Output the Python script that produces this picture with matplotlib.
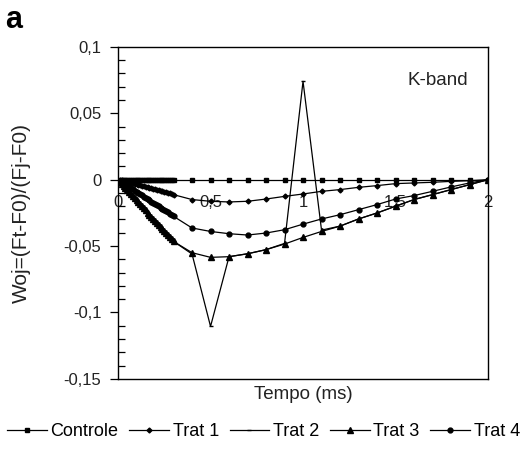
import numpy as np
import matplotlib.pyplot as plt
import matplotlib.ticker as ticker

plt.rcParams['font.family'] = ['Liberation Sans', 'DejaVu Sans']

# time points (ms): 0.01..0.3 every 0.01, then 0.4..2.0 every 0.1
tempo = [0.01, 0.02, 0.03, 0.04, 0.05, 0.06, 0.07, 0.08, 0.09, 0.10,
         0.11, 0.12, 0.13, 0.14, 0.15, 0.16, 0.17, 0.18, 0.19, 0.20,
         0.21, 0.22, 0.23, 0.24, 0.25, 0.26, 0.27, 0.28, 0.29, 0.30,
         0.4, 0.5, 0.6, 0.7, 0.8, 0.9, 1.0, 1.1, 1.2, 1.3, 1.4, 1.5,
         1.6, 1.7, 1.8, 1.9, 2.0]

controle = [0.0] * 47

trat1 = [-0.0003, -0.0006, -0.0010, -0.0013, -0.0017, -0.0020, -0.0024, -0.0027, -0.0031, -0.0035,
         -0.0038, -0.0042, -0.0046, -0.0049, -0.0053, -0.0057, -0.0060, -0.0064, -0.0068, -0.0071,
         -0.0075, -0.0079, -0.0082, -0.0086, -0.0090, -0.0094, -0.0098, -0.0102, -0.0107, -0.0113,
         -0.0150, -0.0163, -0.0168, -0.0163, -0.0146, -0.0126, -0.0108, -0.0088, -0.0075, -0.0058,
         -0.0045, -0.0030, -0.0025, -0.0020, -0.0013, -0.0008, 0.0]

trat3 = [-0.0015, -0.0031, -0.0046, -0.0062, -0.0077, -0.0093, -0.0108, -0.0124, -0.0139, -0.0155,
         -0.0170, -0.0186, -0.0201, -0.0217, -0.0232, -0.0248, -0.0263, -0.0279, -0.0294, -0.0310,
         -0.0325, -0.0341, -0.0356, -0.0372, -0.0387, -0.0403, -0.0418, -0.0434, -0.0450, -0.0465,
         -0.0550, -0.0585, -0.0580, -0.0558, -0.0527, -0.0485, -0.0435, -0.0390, -0.0350, -0.0296,
         -0.0251, -0.0200, -0.0150, -0.0113, -0.0075, -0.0038, 0.0]

trat2 = [-0.0015, -0.0031, -0.0046, -0.0062, -0.0077, -0.0093, -0.0108, -0.0124, -0.0139, -0.0155,
         -0.0170, -0.0186, -0.0201, -0.0217, -0.0232, -0.0248, -0.0263, -0.0279, -0.0294, -0.0310,
         -0.0325, -0.0341, -0.0356, -0.0372, -0.0387, -0.0403, -0.0418, -0.0434, -0.0450, -0.0465,
         -0.0560, -0.1105, -0.0580, -0.0558, -0.0527, -0.0480, 0.0740, -0.0380, -0.0350, -0.0296,
         -0.0251, -0.0200, -0.0150, -0.0113, -0.0075, -0.0038, 0.0]

trat4 = [-0.0009, -0.0018, -0.0028, -0.0037, -0.0046, -0.0055, -0.0064, -0.0074, -0.0083, -0.0092,
         -0.0101, -0.0110, -0.0119, -0.0128, -0.0137, -0.0146, -0.0155, -0.0165, -0.0174, -0.0183,
         -0.0192, -0.0201, -0.0210, -0.0219, -0.0228, -0.0237, -0.0246, -0.0256, -0.0266, -0.0276,
         -0.0364, -0.0390, -0.0407, -0.0417, -0.0402, -0.0377, -0.0335, -0.0296, -0.0264, -0.0226,
         -0.0188, -0.0146, -0.0120, -0.0088, -0.0055, -0.0025, 0.0]

yticks = [-0.15, -0.1, -0.05, 0, 0.05, 0.1]
ytick_labels = ['-0,15', '-0,1', '-0,05', '0', '0,05', '0,1']
xticks = [0, 0.5, 1, 1.5, 2]
xtick_labels = ['0', '0,5', '1', '1,5', '2']

lw = 0.9
fs = 12
tc = '#222222'

fig = plt.figure(figsize=(5.27, 4.5), dpi=100)
ax = fig.add_axes([0.224, 0.158, 0.702, 0.738])

ax.plot(tempo, controle, 'k-', marker='s', ms=3.5, lw=lw, label='Controle')
ax.plot(tempo, trat1, 'k-', marker='D', ms=2.5, lw=lw, label='Trat 1')
ax.plot(tempo, trat2, 'k-', marker='_', ms=3, mew=1, lw=lw, label='Trat 2')
ax.plot(tempo, trat3, 'k-', marker='^', ms=4, lw=lw, label='Trat 3')
ax.plot(tempo, trat4, 'k-', marker='o', ms=3.5, lw=lw, label='Trat 4')

ax.set_xlim(0, 2)
ax.set_ylim(-0.15, 0.1)
ax.set_yticks(yticks)
ax.set_yticklabels(ytick_labels, fontsize=fs, color=tc)
ax.yaxis.set_minor_locator(ticker.MultipleLocator(0.01))
ax.tick_params(axis='y', which='major', direction='out', length=6, width=0.9, pad=6)
ax.tick_params(axis='y', which='minor', direction='in', length=5, width=0.9)

# x tick labels sit under the zero line
ax.set_xticks([])
sec = ax.secondary_xaxis(0.6)
sec.set_alignment('bottom')
sec.set_xticks(xticks)
sec.set_xticklabels(xtick_labels, fontsize=fs, color=tc)
sec.tick_params(axis='x', length=0, pad=11)
sec.spines['bottom'].set_visible(False)
sec.spines['top'].set_visible(False)

for s in ax.spines.values():
    s.set_linewidth(1.0)

ax.set_xlabel('Tempo (ms)', fontsize=13.5, color=tc, labelpad=5)
ax.set_ylabel('Woj=(Ft-F0)/(Fj-F0)', fontsize=15, color=tc)
ax.yaxis.set_label_coords(-0.235, 0.5)
ax.text(0.946, 0.90, 'K-band', transform=ax.transAxes, ha='right', va='center',
        fontsize=13.5, color=tc)

fig.text(0.01, 0.955, 'a', fontsize=22, fontweight='bold', va='center')

fig.legend(loc='center', bbox_to_anchor=(0.5, 0.04), ncol=5, frameon=False,
           fontsize=13, handlelength=2.2, handletextpad=0.2, columnspacing=0.6,
           borderaxespad=0)

fig.savefig('out.png', dpi=100)
